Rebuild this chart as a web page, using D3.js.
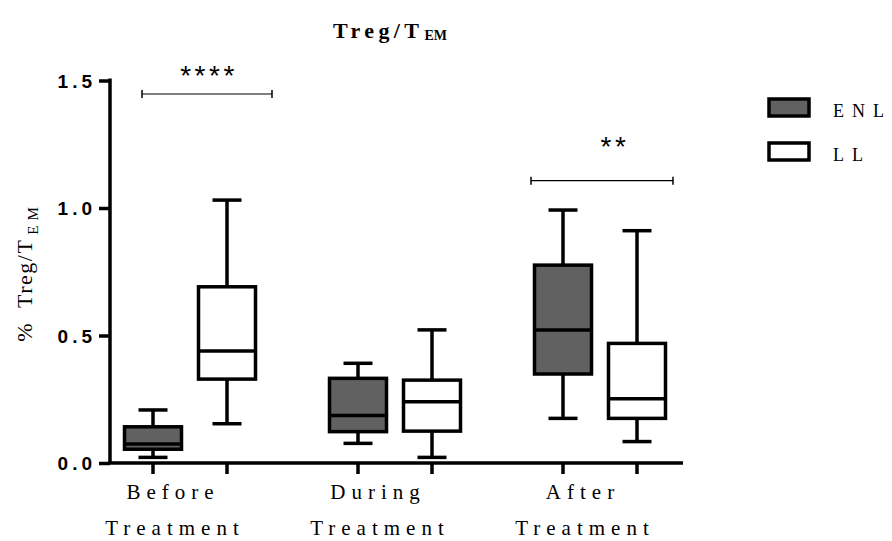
<!DOCTYPE html>
<html>
<head>
<meta charset="utf-8">
<script src="https://cdn.jsdelivr.net/npm/d3@7"></script>
<style>
  body { margin: 0; background: #fff; }
  svg { display: block; }
</style>
</head>
<body>
<svg width="892" height="541"></svg>
<script>
// data
const groups = ["Before", "During", "After"];
const groupLine2 = ["Treatment", "Treatment", "Treatment"];
const series = ["ENL", "LL"];
const seriesFill = ["#616161", "#ffffff"];

const enlMin = [0.022, 0.077, 0.175];
const enlQ1  = [0.054, 0.123, 0.349];
const enlMed = [0.075, 0.186, 0.522];
const enlQ3  = [0.142, 0.332, 0.776];
const enlMax = [0.208, 0.391, 0.992];

const llMin = [0.154, 0.022, 0.084];
const llQ1  = [0.329, 0.125, 0.175];
const llMed = [0.439, 0.240, 0.252];
const llQ3  = [0.691, 0.325, 0.469];
const llMax = [1.031, 0.522, 0.911];

const yTicks = [0, 0.5, 1.0, 1.5];

// significance brackets
const sigGroups = ["Before", "After"];
const sigLabels = ["****", "**"];
const sigLevels = [1.447, 1.107];
const sigLabelLevels = [1.482, 1.204];

const svg = d3.select("svg");

// scales
const y = d3.scaleLinear().domain([0, 1.5]).range([463, 80.5]);
const x0 = d3.scalePoint().domain(groups).range([190, 600]);
const x1 = d3.scalePoint().domain(series).range([-37, 37]);

const boxW = 57, capW = 29, sw = 3.5;
// bracket ends, offsets from the ENL / LL ticks
const brLeft = [-11, -32], brRight = [45, 36], labelShift = [2, 13];

// build box table
const boxes = [];
groups.forEach((g, i) => {
  boxes.push({g, s: "ENL", min: enlMin[i], q1: enlQ1[i], med: enlMed[i], q3: enlQ3[i], max: enlMax[i]});
  boxes.push({g, s: "LL", min: llMin[i], q1: llQ1[i], med: llMed[i], q3: llQ3[i], max: llMax[i]});
});
const cx = d => x0(d.g) + x1(d.s);

// title
const title = svg.append("text")
  .attr("x", 390).attr("y", 38)
  .attr("text-anchor", "middle")
  .style("font-family", "Liberation Serif, serif")
  .style("font-weight", "bold")
  .style("font-size", "22px")
  .style("letter-spacing", "4.4px");
title.append("tspan").text("Treg/T");
title.append("tspan").attr("dx", 1).attr("dy", 2).style("font-size", "14px").style("letter-spacing", "0px").text("EM");

// y axis
const yAxis = svg.append("g")
  .attr("transform", "translate(110,0)")
  .call(d3.axisLeft(y).tickValues(yTicks).tickFormat(d3.format(".1f")).tickSize(11).tickSizeOuter(0));
yAxis.select(".domain").attr("stroke", "#000").attr("stroke-width", sw)
  .attr("d", `M0,${y(1.5) - 2}V${y(0)}`);
yAxis.selectAll(".tick line").attr("stroke", "#000").attr("stroke-width", sw);
yAxis.selectAll(".tick text")
  .attr("x", -14)
  .attr("dy", "0.36em")
  .style("font-family", "Liberation Sans, Arial, sans-serif")
  .style("font-weight", "bold")
  .style("font-size", "19px")
  .style("letter-spacing", "4px")
  .attr("fill", "#000");

// y label
const yl = svg.append("text")
  .attr("transform", "translate(32,272) rotate(-90)")
  .attr("text-anchor", "middle")
  .style("font-family", "Liberation Serif, serif")
  .style("font-size", "22px")
  .style("letter-spacing", "1.5px");
yl.append("tspan").text("%\u00a0\u00a0Treg/T");
yl.append("tspan").attr("dx", 4).attr("dy", 6).style("font-size", "15px").style("letter-spacing", "5px").text("EM");

// x axis line and ticks
svg.append("line")
  .attr("x1", 108).attr("x2", 683)
  .attr("y1", y(0)).attr("y2", y(0))
  .attr("stroke", "#000").attr("stroke-width", sw);
svg.selectAll(".xtick").data(boxes).join("line")
  .attr("class", "xtick")
  .attr("x1", cx).attr("x2", cx)
  .attr("y1", y(0)).attr("y2", y(0) + 11)
  .attr("stroke", "#000").attr("stroke-width", sw);

// x labels
const xl = svg.selectAll(".xlab").data(groups).join("text")
  .attr("class", "xlab")
  .attr("text-anchor", "middle")
  .style("font-family", "Liberation Serif, serif")
  .style("font-size", "21px")
  .style("letter-spacing", "6px");
xl.append("tspan").attr("x", d => x0(d) - 17).attr("y", 499).text(d => d);
xl.append("tspan").attr("x", d => x0(d) - 15).attr("y", 535).text((d, i) => groupLine2[i]);

// boxes
const bg = svg.selectAll(".box").data(boxes).join("g").attr("class", "box");
bg.append("line")
  .attr("x1", cx).attr("x2", cx)
  .attr("y1", d => y(d.max)).attr("y2", d => y(d.min))
  .attr("stroke", "#000").attr("stroke-width", sw);
bg.append("line")
  .attr("x1", d => cx(d) - capW / 2).attr("x2", d => cx(d) + capW / 2)
  .attr("y1", d => y(d.max)).attr("y2", d => y(d.max))
  .attr("stroke", "#000").attr("stroke-width", sw);
bg.append("line")
  .attr("x1", d => cx(d) - capW / 2).attr("x2", d => cx(d) + capW / 2)
  .attr("y1", d => y(d.min)).attr("y2", d => y(d.min))
  .attr("stroke", "#000").attr("stroke-width", sw);
bg.append("rect")
  .attr("x", d => cx(d) - boxW / 2)
  .attr("width", boxW)
  .attr("y", d => y(d.q3))
  .attr("height", d => y(d.q1) - y(d.q3))
  .attr("fill", d => seriesFill[series.indexOf(d.s)])
  .attr("stroke", "#000").attr("stroke-width", sw);
bg.append("line")
  .attr("x1", d => cx(d) - boxW / 2).attr("x2", d => cx(d) + boxW / 2)
  .attr("y1", d => y(d.med)).attr("y2", d => y(d.med))
  .attr("stroke", "#000").attr("stroke-width", sw);

// significance brackets
sigGroups.forEach((g, i) => {
  const xa = x0(g) + x1("ENL") + brLeft[i];
  const xb = x0(g) + x1("LL") + brRight[i];
  const yy = y(sigLevels[i]);
  const gg = svg.append("g");
  gg.append("line").attr("x1", xa).attr("x2", xb).attr("y1", yy).attr("y2", yy)
    .attr("stroke", "#000").attr("stroke-width", 1.2);
  [xa, xb].forEach(xx => gg.append("line")
    .attr("x1", xx).attr("x2", xx).attr("y1", yy - 4).attr("y2", yy + 4)
    .attr("stroke", "#000").attr("stroke-width", 1.5));
  gg.append("text")
    .attr("x", (xa + xb) / 2 + labelShift[i]).attr("y", y(sigLabelLevels[i]))
    .attr("text-anchor", "middle")
    .style("font-family", "Liberation Sans, Arial, sans-serif")
    .style("font-size", "28px")
    .style("letter-spacing", "3.5px")
    .text(sigLabels[i]);
});

// legend
const lg = svg.selectAll(".leg").data(series).join("g")
  .attr("class", "leg")
  .attr("transform", (d, i) => `translate(769,${99 + i * 44})`);
lg.append("rect")
  .attr("width", 40).attr("height", 17)
  .attr("fill", (d, i) => seriesFill[i])
  .attr("stroke", "#000").attr("stroke-width", sw);
lg.append("text")
  .attr("x", 64).attr("y", 18)
  .style("font-family", "Liberation Serif, serif")
  .style("font-size", "18px")
  .style("letter-spacing", "8px")
  .text(d => d);
</script>
</body>
</html>
